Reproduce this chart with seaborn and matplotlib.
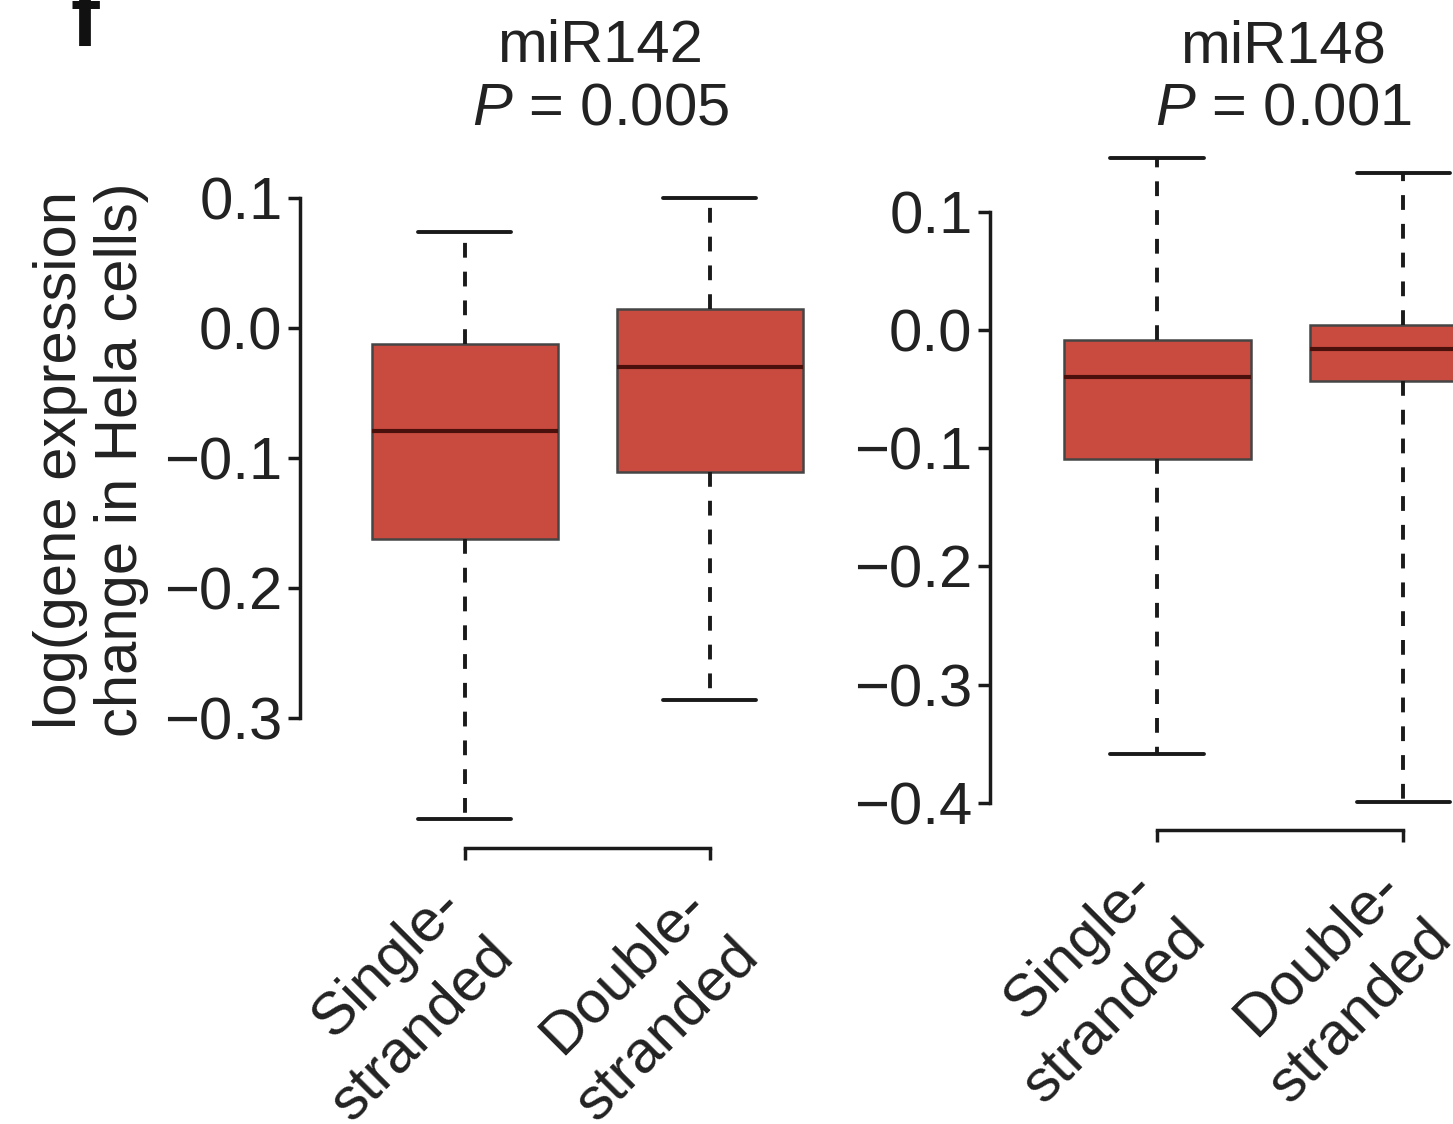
import numpy as np
import pandas as pd
import matplotlib.pyplot as plt
import matplotlib.transforms as mtransforms
import seaborn as sns

# categories and five-number summaries (min, Q1, median, Q3, max)
groups = ['Single-\nstranded', 'Double-\nstranded']
mir142_single = [-0.378, -0.162, -0.079, -0.012, 0.074]
mir142_double = [-0.286, -0.111, -0.030, 0.015, 0.100]
mir148_single = [-0.359, -0.109, -0.040, -0.008, 0.146]
mir148_double = [-0.399, -0.043, -0.016, 0.004, 0.133]
panel_names = ['miR142', 'miR148']
p_values = ['0.005', '0.001']
yticks_142 = [0.1, 0.0, -0.1, -0.2, -0.3]
yticks_148 = [0.1, 0.0, -0.1, -0.2, -0.3, -0.4]

sns.set_style('ticks')
plt.rcParams['font.family'] = ['Liberation Sans', 'DejaVu Sans']
plt.rcParams['mathtext.fontset'] = 'custom'
plt.rcParams['mathtext.rm'] = 'Liberation Sans'
plt.rcParams['mathtext.it'] = 'Liberation Sans:italic'

box_color = '#C94B3F'
line_color = '#1a1a1a'
fs = 43


def make_frame(single, double):
    return pd.DataFrame({'strand': [groups[0]] * len(single) + [groups[1]] * len(double),
                         'value': single + double})


def draw_panel(ax, df, ylim, xlim, yticks, ybounds):
    sns.boxplot(ax=ax, data=df, x='strand', y='value', order=groups, width=0.76,
                color=box_color, saturation=1, whis=(0, 100), linecolor=line_color,
                linewidth=2.8,
                boxprops=dict(edgecolor='#454545', linewidth=1.8),
                whiskerprops=dict(linestyle=(0, (3.8, 3.6)), linewidth=2.8),
                capprops=dict(linewidth=2.8),
                medianprops=dict(color='#4a100b', linewidth=3))
    ax.set_ylim(*ylim)
    ax.set_xlim(*xlim)
    ax.set_yticks(yticks)
    ax.set_yticklabels([f'{v:.1f}'.replace('-', '\u2212') for v in yticks])
    ax.set_xlabel('')
    ax.set_ylabel('')
    for side in ['top', 'right']:
        ax.spines[side].set_visible(False)
    ax.spines['left'].set_bounds(*ybounds)
    ax.spines['bottom'].set_bounds(0, 1)
    for side in ['left', 'bottom']:
        ax.spines[side].set_linewidth(2.5)
        ax.spines[side].set_color(line_color)
    ax.tick_params(axis='both', labelsize=fs, length=8.6, width=2.5, color=line_color,
                   labelcolor='#222222')
    ax.tick_params(axis='y', pad=4)
    ax.tick_params(axis='x', pad=6)
    for line in ax.lines:
        line.set_clip_on(False)
    for p in ax.patches:
        p.set_clip_on(False)
    ax.set_xticks([0, 1])
    ax.set_xticklabels(groups, rotation=45, ha='right', rotation_mode='anchor',
                       multialignment='right', linespacing=1.4)
    # nudge the rotated labels to sit like the original (after tick_params, which resets transforms)
    shift = mtransforms.ScaledTranslation(-31 / 100, -9 / 100, fig.dpi_scale_trans)
    for lab in ax.get_xticklabels():
        lab.set_transform(lab.get_transform() + shift)


fig = plt.figure(figsize=(14.53, 11.24), dpi=100)

ax1 = fig.add_axes([300 / 1453, 1 - 848 / 1124, 520 / 1453, 663 / 1124])
draw_panel(ax1, make_frame(mir142_single, mir142_double), (-0.4, 0.11), (-0.673, 1.45),
           yticks_142, (-0.3, 0.1))

ax2 = fig.add_axes([990 / 1453, 1 - 830 / 1124, 561 / 1453, 689 / 1124])
draw_panel(ax2, make_frame(mir148_single, mir148_double), (-0.423, 0.16), (-0.679, 1.6),
           yticks_148, (-0.4, 0.1))

for name, p, xc in zip(panel_names, p_values, [600, 1283]):
    fig.text(xc / 1453, 1 - 47 / 1124, name, ha='center', va='center', fontsize=fs,
             color='#222222')
    fig.text(xc / 1453, 1 - 109 / 1124, '$\\mathit{P}$ = ' + p, ha='center', va='center',
             fontsize=fs, color='#222222')

fig.text(91 / 1453, 1 - 460 / 1124, 'log(gene expression\nchange in Hela cells)',
         rotation=90, ha='center', va='center', fontsize=fs, linespacing=1.15,
         color='#222222')

fig.text(85 / 1453, 1 - 46 / 1124, 'f', ha='center', va='baseline', fontsize=62,
         fontweight='bold', color='#111111')

fig.savefig('out.png', dpi=100)
